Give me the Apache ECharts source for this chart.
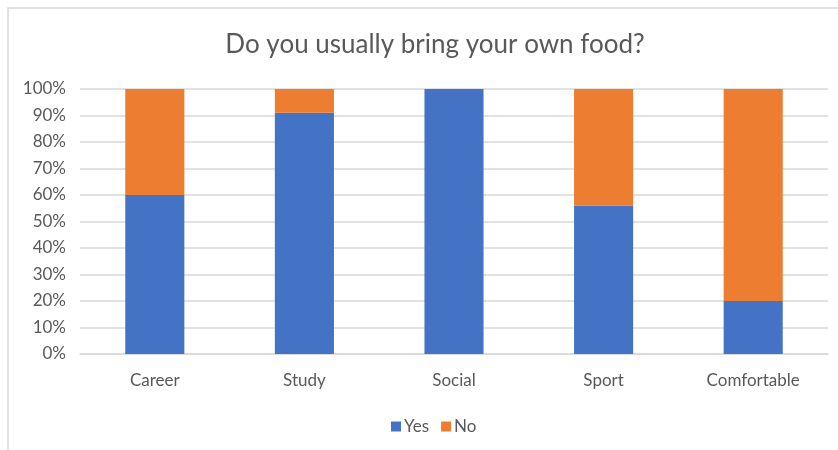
<!DOCTYPE html>
<html><head><meta charset="utf-8">
<script src="https://cdn.jsdelivr.net/npm/echarts@6/dist/echarts.min.js"></script>
<style>html,body{margin:0;padding:0;background:#fff}#c{width:838px;height:450px}</style>
</head><body><div id="c"></div>
<script>
const categories = ['Career', 'Study', 'Social', 'Sport', 'Comfortable'];
const yesValues = [60, 91, 100, 56, 20];
const noValues = [40, 9, 0, 44, 80];
const yTicks = [0, 10, 20, 30, 40, 50, 60, 70, 80, 90, 100];

const font = 'Lato, "Open Sans", sans-serif';
const chart = echarts.init(document.getElementById('c'), null, {renderer: 'canvas'});
chart.setOption({
  animation: false,
  backgroundColor: '#fff',
  graphic: [{
    type: 'rect', shape: {x: 8, y: 8, width: 900, height: 500},
    style: {fill: 'none', stroke: '#D9D9D9', lineWidth: 1.5}, silent: true, z: -1
  }],
  title: {
    text: 'Do you usually bring your own food?',
    left: 430, top: 27, textAlign: 'center',
    textStyle: {fontFamily: font, fontSize: 26, fontWeight: 'normal', color: '#595959'}
  },
  legend: {
    data: ['Yes', 'No'], left: 386, top: 413,
    itemWidth: 10, itemHeight: 10, itemGap: 12, icon: 'rect',
    textStyle: {fontFamily: font, fontSize: 17, color: '#595959', padding: [0, 0, 0, -2]}
  },
  grid: {left: 80, right: 10, top: 89, bottom: 96, containLabel: false},
  xAxis: {
    type: 'category', data: categories,
    axisLine: {lineStyle: {color: '#D9D9D9', width: 1.5}},
    axisTick: {show: false},
    axisLabel: {fontFamily: font, fontSize: 17, color: '#595959', margin: 18}
  },
  yAxis: {
    type: 'value', min: 0, max: 100, interval: 10,
    axisLabel: {formatter: v => yTicks.includes(v) ? v + '%' : '', fontFamily: font, fontSize: 17, color: '#595959', margin: 14},
    splitLine: {lineStyle: {color: '#D9D9D9', width: 1.5}},
    axisLine: {show: false}, axisTick: {show: false}
  },
  series: [
    {name: 'Yes', type: 'bar', stack: 's', data: yesValues, barWidth: '39.5%', itemStyle: {color: '#4472C4'}},
    {name: 'No', type: 'bar', stack: 's', data: noValues, barWidth: '39.5%', itemStyle: {color: '#ED7D31'}}
  ]
});
</script></body></html>
